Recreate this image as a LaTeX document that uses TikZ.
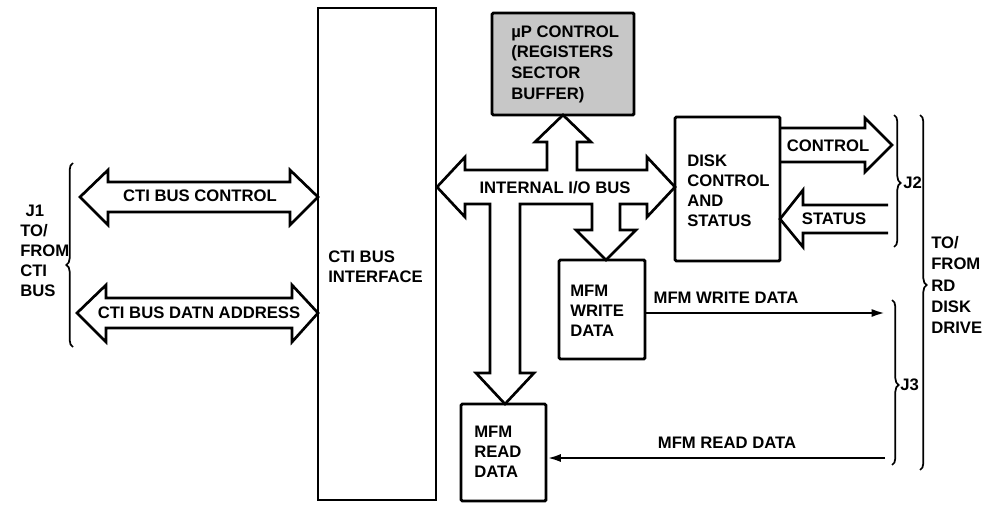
\documentclass[tikz,border=0pt]{standalone}
\usepackage{fontspec}
\setmainfont{Liberation Sans}
\usetikzlibrary{arrows.meta,fit,decorations.pathreplacing}
\begin{document}
\begin{tikzpicture}[x=0.75pt,y=-0.75pt,
  box/.style={draw, line width=2.2pt, rounded corners=1pt, inner sep=0pt},
  thinbox/.style={draw, line width=1.5pt, inner sep=0pt},
  blk/.style={draw, line width=2pt, line join=miter},
  lbl/.style={font=\bfseries\fontsize{12.5}{15}\selectfont, inner sep=0pt, align=left},
  sig/.style={line width=1.7pt, -{Latex[length=10pt,width=6pt]}},
  brc/.style={draw, line width=1.3pt, decorate},
]
\useasboundingbox (0,0) rectangle (991,506);

% boxes
\node[thinbox, fit={(318,8) (436,500)}] (cti) {};
\node[box, fill=black!22, fit={(492,13) (634,115)}] (mup) {};
\node[box, fit={(675,117) (780,261)}] (disk) {};
\node[box, fit={(559,260) (645,359)}] (mfmw) {};
\node[box, fit={(461,404) (546,501)}] (mfmr) {};

% box texts
\node[lbl, anchor=west] (ctit) at (328,267) {CTI BUS\\INTERFACE};
\node[lbl, anchor=west, font=\bfseries\fontsize{12.5}{15.5}\selectfont] (mupt) at (511,64) {µP CONTROL\\(REGISTERS\\SECTOR\\BUFFER)};
\node[lbl, anchor=west] (diskt) at (687,191) {DISK\\CONTROL\\AND\\STATUS};
\node[lbl, anchor=west] (mfmwt) at (570,311) {MFM\\WRITE\\DATA};
\node[lbl, anchor=west] (mfmrt) at (474,452) {MFM\\READ\\DATA};

% CTI bus control double arrow
\draw[blk] (80,197) -- (108,170) -- (108,182) -- (290,182) -- (290,170) -- (318,197)
  -- (290,225) -- (290,212) -- (108,212) -- (108,225) -- cycle;
\node[lbl] (ctic) at (200,196) {CTI BUS CONTROL};

% CTI bus data/address double arrow
\draw[blk] (77,313) -- (106,285) -- (106,298) -- (292,298) -- (292,285) -- (318,313)
  -- (292,342) -- (292,328) -- (106,328) -- (106,342) -- cycle;
\node[lbl] (ctid) at (199,313) {CTI BUS DATN ADDRESS};

% internal I/O bus with branches
\draw[blk] (437,187) -- (465,157) -- (465,170) -- (547,170) -- (547,142) -- (535,142)
  -- (563,115) -- (591,142) -- (577,142) -- (577,170) -- (647,170) -- (647,157)
  -- (675,187) -- (647,217) -- (647,204) -- (620,204) -- (620,230) -- (636,230)
  -- (606,260) -- (576,230) -- (592,230) -- (592,204) -- (520,204) -- (520,373)
  -- (534,373) -- (505,404) -- (476,373) -- (490,373) -- (490,204) -- (465,204)
  -- (465,217) -- cycle;
\node[lbl] (iob) at (555,188) {INTERNAL I/O BUS};

% CONTROL arrow
\draw[blk] (780,128) -- (865,128) -- (865,118) -- (892,145) -- (865,172) -- (865,162) -- (780,162);
\node[lbl] (ctl) at (828,146) {CONTROL};

% STATUS arrow
\draw[blk] (888,205) -- (803,205) -- (803,190) -- (780,219) -- (803,247) -- (803,233) -- (888,233);
\node[lbl] (sts) at (834,219) {STATUS};

% MFM data lines
\coordinate (wend) at (885,313);
\coordinate (rstart) at (885,458);
\draw[sig] (mfmw.east |- wend) -- (wend);
\draw[sig] (rstart) -- (mfmr.east |- rstart);
\node[lbl] (wlbl) at (726,298) {MFM WRITE DATA};
\node[lbl] (rlbl) at (727,443) {MFM READ DATA};

% braces
\draw[brc, decoration={brace, amplitude=5pt, aspect=0.446}] (73,347) -- (73,163);
\draw[brc, decoration={brace, amplitude=5pt, aspect=0.515}] (894,115) -- (894,247);
\draw[brc, decoration={brace, amplitude=5pt, aspect=0.515}] (892,300) -- (892,465);
\draw[brc, decoration={brace, amplitude=5pt, aspect=0.479}] (920,115) -- (920,470);

% brace labels
\node[lbl, anchor=west] (j1) at (20,251) {\hspace*{4pt}J1\\TO/\\FROM\\CTI\\BUS};
\node[lbl, anchor=west] (j2) at (903,183) {J2};
\node[lbl, anchor=west] (j3) at (900,385) {J3};
\node[lbl, anchor=west, font=\bfseries\fontsize{12.5}{16}\selectfont] (rd) at (931,285) {TO/\\FROM\\RD\\DISK\\DRIVE};
\end{tikzpicture}
\end{document}
